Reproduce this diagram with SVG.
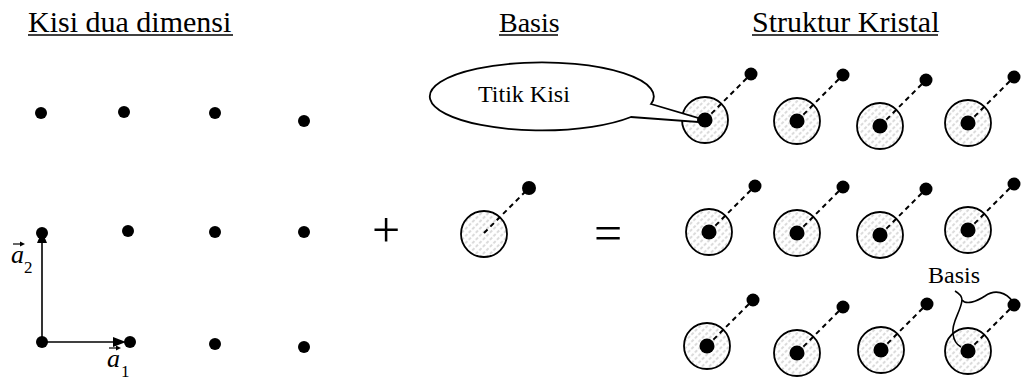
<svg xmlns="http://www.w3.org/2000/svg" xmlns:xlink="http://www.w3.org/1999/xlink" width="1021" height="381" viewBox="0 0 1021 381">
<style>
text{font-family:'Liberation Serif','Times New Roman','DejaVu Serif',serif;fill:#000}
.title{font-size:30px}
.vec{font-style:italic;font-size:26px}
.sub{font-size:17px}
.ul{stroke:#000;stroke-width:1.6}
.dot{fill:#000}
.ring{fill:url(#hatch);stroke:#000;stroke-width:1.8}
.bond{stroke:#000;stroke-width:2;stroke-dasharray:5 4;fill:none}
.axis{stroke:#000;stroke-width:1.6;fill:none}
.thin{stroke:#000;stroke-width:1.6;fill:none}
</style>
<defs>
<pattern id="hatch" width="5" height="5" patternUnits="userSpaceOnUse" patternTransform="rotate(45)">
<rect width="5" height="5" fill="#fff"/>
<line x1="1" y1="0" x2="1" y2="3.2" stroke="#b0b0b0" stroke-width="0.9"/>
</pattern>
<g id="unit">
<circle class="ring" r="23"/>
<line class="bond" x1="0" y1="0" x2="46" y2="-46"/>
<circle class="dot" cx="46" cy="-46" r="6.5"/>
<circle class="dot" r="7.5"/>
</g>
</defs>
<rect width="1021" height="381" fill="#fff"/>

<g id="titles" font-family="'Liberation Serif', 'Times New Roman', serif">
<text class="title" x="28" y="32">Kisi dua dimensi</text>
<line class="ul" x1="28" y1="35" x2="233" y2="35"/>
<text class="title" x="499" y="32" style="font-size:28px">Basis</text>
<line class="ul" x1="499" y1="35" x2="558" y2="35"/>
<text class="title" x="752" y="32">Struktur Kristal</text>
<line class="ul" x1="752" y1="35" x2="938" y2="35"/>
</g>

<g id="lattice">
<circle id="p11" class="dot" cx="41" cy="113" r="6"/>
<circle id="p12" class="dot" cx="124" cy="112" r="6"/>
<circle id="p13" class="dot" cx="215" cy="113" r="6"/>
<circle id="p14" class="dot" cx="304" cy="121" r="6"/>
<circle id="p21" class="dot" cx="42" cy="233" r="6"/>
<circle id="p22" class="dot" cx="128" cy="231" r="6"/>
<circle id="p23" class="dot" cx="215" cy="232" r="6"/>
<circle id="p24" class="dot" cx="304" cy="232" r="6"/>
<circle id="p31" class="dot" cx="42" cy="342" r="6"/>
<circle id="p32" class="dot" cx="130" cy="342" r="6"/>
<circle id="p33" class="dot" cx="215" cy="344" r="6"/>
<circle id="p34" class="dot" cx="304" cy="347" r="6"/>
</g>

<g id="connectors">
<line class="axis" x1="42" y1="342" x2="42" y2="240"/>
<polygon points="42,231 37,243 47,243" fill="#000"/>
<line class="axis" x1="42" y1="342" x2="116" y2="342"/>
<polygon points="126,342 113,337 113,347" fill="#000"/>
</g>

<g id="label-a2">
<text class="vec" x="11" y="263">a</text>
<text class="sub" x="24" y="273">2</text>
<line class="thin" x1="13" y1="244" x2="22" y2="244" style="stroke-width:1.2"/>
<polygon points="25,244 20,241.5 20,246.5" fill="#000"/>
</g>
<g id="label-a1">
<text class="vec" x="107" y="367">a</text>
<text class="sub" x="121" y="377">1</text>
<line class="thin" x1="109" y1="348" x2="118" y2="348" style="stroke-width:1.2"/>
<polygon points="121,348 116,345.5 116,350.5" fill="#000"/>
</g>

<g id="plus"><text x="386" y="247" text-anchor="middle" style="font-size:50px">+</text></g>

<g id="basis">
<circle class="ring" cx="484" cy="234" r="23"/>
<line class="bond" x1="484" y1="233" x2="529" y2="188"/>
<circle class="dot" cx="529" cy="188" r="7"/>
</g>

<g id="equals"><text x="608" y="250" text-anchor="middle" style="font-size:50px">=</text></g>

<g id="crystal">
<g id="c11"><use xlink:href="#unit" transform="translate(705,120)"/></g>
<g id="c12"><use xlink:href="#unit" transform="translate(797,121)"/></g>
<g id="c13"><use xlink:href="#unit" transform="translate(880,126)"/></g>
<g id="c14"><use xlink:href="#unit" transform="translate(968,123)"/></g>
<g id="c21"><use xlink:href="#unit" transform="translate(709,232)"/></g>
<g id="c22"><use xlink:href="#unit" transform="translate(797,233)"/></g>
<g id="c23"><use xlink:href="#unit" transform="translate(880,235)"/></g>
<g id="c24"><use xlink:href="#unit" transform="translate(968,230)"/></g>
<g id="c31"><use xlink:href="#unit" transform="translate(707,346)"/></g>
<g id="c32"><use xlink:href="#unit" transform="translate(797,353)"/></g>
<g id="c33"><use xlink:href="#unit" transform="translate(881,350)"/></g>
<g id="c34"><use xlink:href="#unit" transform="translate(968,351)"/></g>
</g>

<g id="callout">
<path d="M651 104 L698 118 L698 122 L631 117 A112 34 0 1 1 651 104 Z" fill="#fff" stroke="#000" stroke-width="1.8"/>
<text x="478" y="102" style="font-size:24px">Titik Kisi</text>
</g>

<g id="basis-label">
<text x="928" y="283" style="font-size:24px">Basis</text>
<path class="thin" d="M955 291 Q962 295 962 300 C966 305 976 302 985 296 C995 289 1006 292 1013 302"/>
<path class="thin" d="M962 300 C961 312 951 322 953 334 C954 341 957 345 961 347"/>
</g>
</svg>
